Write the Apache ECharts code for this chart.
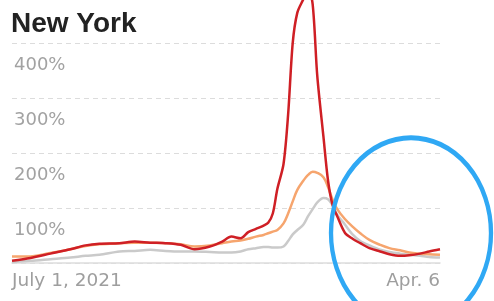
<!DOCTYPE html>
<html>
<head>
<meta charset="utf-8">
<script src="https://cdn.jsdelivr.net/npm/echarts@6/dist/echarts.min.js"></script>
<style>
html,body{margin:0;padding:0;background:#fff;}
#c{width:494px;height:301px;}
</style>
</head>
<body>
<div id="c"></div>
<script>
var titleText = 'New York';
var dates = ['2021-07-01','2021-07-13','2021-07-26','2021-08-08','2021-08-18','2021-08-27','2021-09-09','2021-09-19','2021-09-29','2021-10-09','2021-10-19','2021-10-28','2021-11-07','2021-11-15','2021-11-21','2021-11-27','2021-12-02','2021-12-07','2021-12-12','2021-12-15','2021-12-18','2021-12-21','2021-12-25','2021-12-28','2021-12-31','2022-01-03','2022-01-07','2022-01-10','2022-01-13','2022-01-16','2022-01-20','2022-01-23','2022-01-26','2022-01-29','2022-02-03','2022-02-08','2022-02-13','2022-02-19','2022-02-26','2022-03-04','2022-03-11','2022-03-17','2022-03-24','2022-03-30','2022-04-06'];
var redValues = [4,9,17,25,32,35,36,39,37,36,33,25,30,39,48,45,56,62,68,73,90,135,180,270,400,455,480,500,470,340,230,150,105,85,55,44,36,27,21,16,13,14,17,21,25];
var orangeValues = [12,12,18,25,31,34,36,37,37,36,34,30,32,36,39,41,44,48,51,54,57,60,72,90,112,133,150,160,166,164,156,138,115,98,80,66,54,42,33,27,23,19,17,16,15];
var grayValues = [2,4,7,10,13,15,21,22,24,22,21,21,20,19,19,21,25,27,29,29,28,28,30,40,52,60,70,85,98,110,118,116,105,88,70,52,40,32,24,20,17,15,13,11,10];
var yTicks = [100,200,300,400];
var yTickLabels = ['100%','200%','300%','400%'];
var xTickDates = ['2021-07-01','2022-04-06'];
var xTickLabels = ['July 1, 2021','Apr. 6'];

function tsOf(d){ return Date.UTC(+d.slice(0,4), +d.slice(5,7)-1, +d.slice(8,10)); }
function pairs(vals){ return dates.map(function(d,i){ return [tsOf(d), vals[i]]; }); }
var xTickTimes = xTickDates.map(tsOf);

var chart = echarts.init(document.getElementById('c'), null, {renderer:'canvas'});
var labelFont = 'DejaVu Sans';
chart.setOption({
  animation: false,
  title: {
    text: titleText, left: 11, top: 10, padding: 0,
    textStyle: {fontFamily: 'Liberation Sans', fontWeight: 'bold', fontSize: 28, color: '#222'}
  },
  grid: {left: 12, right: 54, top: 0, bottom: 38},
  xAxis: {
    type: 'value',
    min: tsOf(dates[0]), max: tsOf(dates[dates.length-1]),
    axisLine: {show: true, lineStyle: {color: '#dddddd', width: 1.5}},
    axisTick: {show: false},
    splitLine: {show: false},
    axisLabel: {
      customValues: xTickTimes,
      alignMinLabel: 'left', alignMaxLabel: 'right',
      showMinLabel: true, showMaxLabel: true,
      margin: 9,
      fontFamily: labelFont, fontSize: 18.5, color: '#9e9e9e',
      formatter: function(v){
        for (var i=0;i<xTickTimes.length;i++){ if (Math.abs(xTickTimes[i]-v) < 43200000) return xTickLabels[i]; }
        return '';
      }
    }
  },
  yAxis: {
    type: 'value', min: 0, max: 478, interval: 100,
    axisLine: {show: false}, axisTick: {show: false},
    splitLine: {show: true, showMaxLine: false, lineStyle: {color: '#dcdcdc', type: [5,4], width: 1}},
    axisLabel: {
      inside: true, margin: 2, align: 'left', verticalAlign: 'top', lineHeight: 44,
      fontFamily: labelFont, fontSize: 18, color: '#a2a2a2',
      formatter: function(v){ var k = yTicks.indexOf(v); return k >= 0 ? yTickLabels[k] : ''; }
    }
  },
  series: [
    {type:'line', name:'gray', data: pairs(grayValues), showSymbol:false, smooth:0.3, clip:true,
     lineStyle:{color:'#cacaca', width:2.5}, z:2},
    {type:'line', name:'orange', data: pairs(orangeValues), showSymbol:false, smooth:0.4, clip:true,
     lineStyle:{color:'#f6a56e', width:2.5}, z:3},
    {type:'line', name:'red', data: pairs(redValues), showSymbol:false, smooth:0.3, clip:true,
     lineStyle:{color:'#cf1f25', width:2.5}, z:4}
  ],
  graphic: [{
    type: 'circle', x: 411, y: 233, scaleY: 1.19, z: 100,
    shape: {cx: 0, cy: 0, r: 80},
    style: {fill: 'none', stroke: '#2fa8f4', lineWidth: 4.3}
  }]
});
</script>
</body>
</html>
